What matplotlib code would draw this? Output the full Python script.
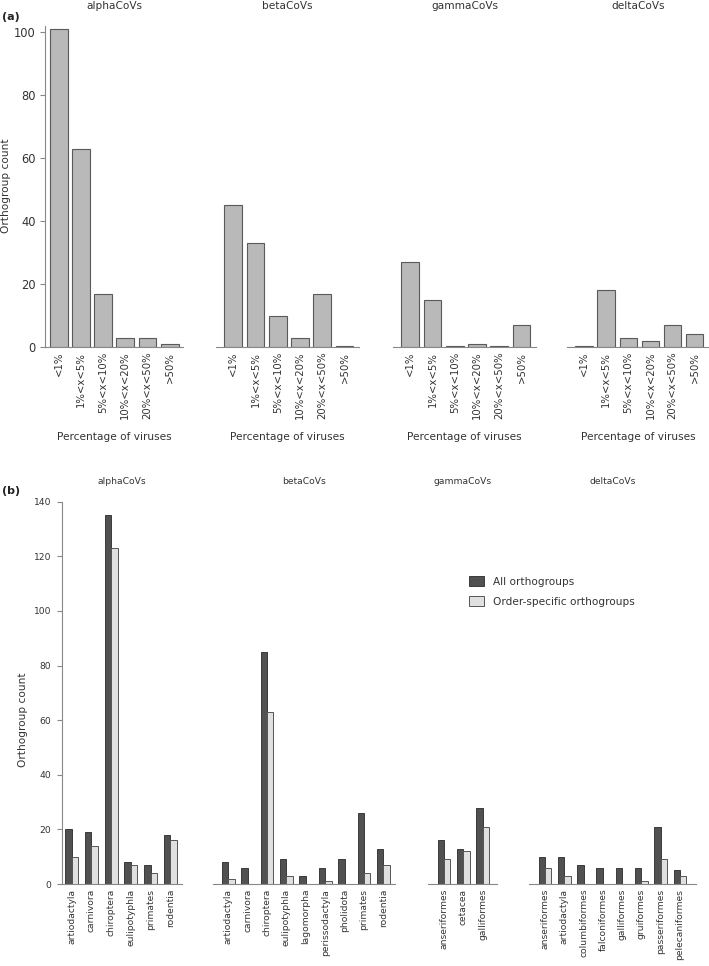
import numpy as np
import matplotlib
matplotlib.use("Agg")
import matplotlib.pyplot as plt

# panel (a): orthogroups by percentage of viruses
pct_bins = ['<1%', '1%<x<5%', '5%<x<10%', '10%<x<20%', '20%<x<50%', '>50%']
genera = ['alphaCoVs', 'betaCoVs', 'gammaCoVs', 'deltaCoVs']
alpha_pct = [101, 63, 17, 3, 3, 1]
beta_pct = [45, 33, 10, 3, 17, 0.2]
gamma_pct = [27, 15, 0.2, 1, 0.2, 7]
delta_pct = [0.2, 18, 3, 2, 7, 4]

# panel (b): orthogroups by host order
alpha_orders = ['artiodactyla', 'carnivora', 'chiroptera', 'eulipotyphla', 'primates', 'rodentia']
alpha_all = [20, 19, 135, 8, 7, 18]
alpha_spec = [10, 14, 123, 7, 4, 16]

beta_orders = ['artiodactyla', 'carnivora', 'chiroptera', 'eulipotyphla', 'lagomorpha',
               'perissodactyla', 'pholidota', 'primates', 'rodentia']
beta_all = [8, 6, 85, 9, 3, 6, 9, 26, 13]
beta_spec = [2, 0, 63, 3, 0, 1, 0, 4, 7]

gamma_orders = ['anseriformes', 'cetacea', 'galliformes']
gamma_all = [16, 13, 28]
gamma_spec = [9, 12, 21]

delta_orders = ['anseriformes', 'artiodactyla', 'columbiformes', 'falconiformes',
                'galliformes', 'gruiformes', 'passeriformes', 'pelecaniformes']
delta_all = [10, 10, 7, 6, 6, 6, 21, 5]
delta_spec = [6, 3, 0, 0, 0, 1, 9, 3]

W, H = 709, 966
fig = plt.figure(figsize=(W / 100, H / 100), dpi=100)

spine_col = '#888888'
text_col = '#333333'


def px_axes(x0, x1, ytop, ybot):
    return fig.add_axes([x0 / W, 1 - ybot / H, (x1 - x0) / W, (ybot - ytop) / H])


def style(ax, show_y):
    ax.spines['top'].set_visible(False)
    ax.spines['right'].set_visible(False)
    ax.spines['bottom'].set_color(spine_col)
    ax.spines['left'].set_color(spine_col)
    if not show_y:
        ax.spines['left'].set_visible(False)
        ax.set_yticks([])
    ax.tick_params(axis='x', length=0, colors=text_col)
    ax.tick_params(axis='y', length=3.5, pad=3, color=spine_col, colors=text_col)


# ---- panel (a) ----
a_data = [alpha_pct, beta_pct, gamma_pct, delta_pct]
a_x = [(45, 183), (216, 359), (393, 536), (567, 709)]
a_xlim = [(-0.62, 5.6), (-0.78, 5.65), (-0.78, 5.65), (-0.78, 5.65)]
for i, (vals, (x0, x1)) in enumerate(zip(a_data, a_x)):
    ax = px_axes(x0, x1, 26, 347)
    pos = np.arange(len(pct_bins))
    ax.bar(pos, vals, 0.8, color='#b9b9b9', edgecolor='#5a5a5a', linewidth=0.8)
    ax.set_xlim(*a_xlim[i])
    ax.set_ylim(0, 102)
    ax.set_xticks(pos)
    ax.set_xticklabels(pct_bins, rotation=90, fontsize=7.3)
    ax.set_xlabel('Percentage of viruses', fontsize=7.6, color=text_col, labelpad=9)
    ax.set_title(genera[i], fontsize=7.6, color=text_col, pad=12)
    style(ax, i == 0)
    if i == 0:
        ax.set_yticks([0, 20, 40, 60, 80, 100])
        ax.tick_params(axis='y', labelsize=8.3)
        ax.set_ylabel('Orthogroup count', fontsize=7.6, color=text_col)
        ax.yaxis.set_label_coords(11 / W, 1 - 186 / H, transform=fig.transFigure)

# ---- panel (b) ----
b_orders = [alpha_orders, beta_orders, gamma_orders, delta_orders]
b_all = [alpha_all, beta_all, gamma_all, delta_all]
b_spec = [alpha_spec, beta_spec, gamma_spec, delta_spec]
b_x = [(61.7, 181.7), (213, 395), (428, 497), (529, 696)]
b_xlim = [(-0.5, 5.58), (-0.78, 8.6), (-0.83, 2.74), (-0.83, 7.83)]
w = 0.33
for i in range(4):
    x0, x1 = b_x[i]
    ax = px_axes(x0, x1, 501.7, 884)
    pos = np.arange(len(b_orders[i]))
    ax.bar(pos - w, b_all[i], w, align='edge', color='#515151', edgecolor='#3a3a3a',
           linewidth=0.7, label='All orthogroups')
    ax.bar(pos, b_spec[i], w, align='edge', color='#e0e0e0', edgecolor='#555555',
           linewidth=0.7, label='Order-specific orthogroups')
    ax.set_xlim(*b_xlim[i])
    ax.set_ylim(0, 140)
    ax.set_xticks(pos)
    ax.set_xticklabels(b_orders[i], rotation=90, fontsize=6.6)
    ax.set_title(genera[i], fontsize=6.6, color=text_col, pad=13)
    style(ax, i == 0)
    if i == 0:
        ax.set_yticks(np.arange(0, 141, 20))
        ax.tick_params(axis='y', labelsize=6.6, pad=4)
        ax.set_ylabel('Orthogroup count', fontsize=7.6, color=text_col)
        ax.yaxis.set_label_coords(28 / W, 1 - 720 / H, transform=fig.transFigure)
        handles, labels = ax.get_legend_handles_labels()

fig.legend(handles, labels, loc='upper left', bbox_to_anchor=(464 / W, 1 - 571 / H),
           frameon=False, fontsize=7.6, borderpad=0, handlelength=1.35,
           handleheight=1.1, labelspacing=0.85, handletextpad=0.9, labelcolor=text_col)

fig.text(2 / W, 1 - 17 / H, '(a)', fontsize=8, fontweight='bold', va='center', color='#222222')
fig.text(2 / W, 1 - 491 / H, '(b)', fontsize=8, fontweight='bold', va='center', color='#222222')

fig.savefig('out.png', dpi=100)
